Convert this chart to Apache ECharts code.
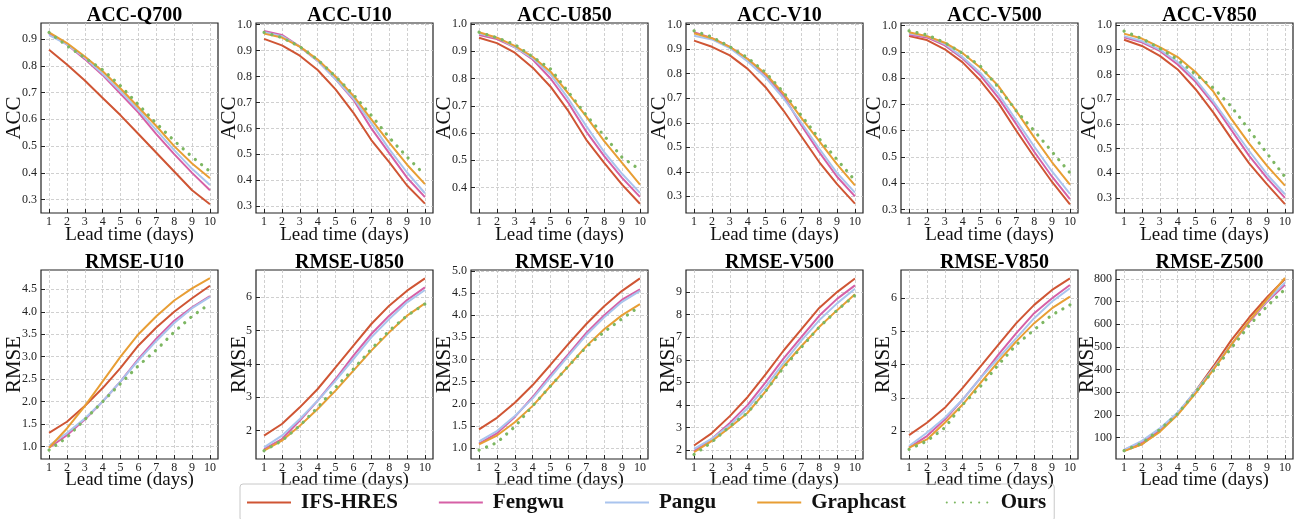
<!DOCTYPE html>
<html>
<head>
<meta charset="utf-8">
<script src="https://cdn.jsdelivr.net/npm/echarts@6/dist/echarts.min.js"></script>
<style>
  html, body { margin: 0; padding: 0; background: #fff; }
  #chart { width: 1294px; height: 519px; }
</style>
</head>
<body>
<div id="chart"></div>
<script>
var days = [1, 2, 3, 4, 5, 6, 7, 8, 9, 10];
var models = ['IFS-HRES', 'Fengwu', 'Pangu', 'Graphcast', 'Ours'];

// rows: IFS-HRES, Fengwu, Pangu, Graphcast, Ours
var accQ700 = [
  [0.86, 0.805, 0.745, 0.68, 0.615, 0.545, 0.475, 0.405, 0.335, 0.283],
  [0.92, 0.88, 0.825, 0.765, 0.695, 0.625, 0.545, 0.47, 0.40, 0.335],
  [0.915, 0.88, 0.83, 0.77, 0.705, 0.635, 0.56, 0.485, 0.415, 0.355],
  [0.925, 0.885, 0.835, 0.78, 0.715, 0.645, 0.575, 0.50, 0.435, 0.38],
  [0.925, 0.875, 0.83, 0.785, 0.725, 0.655, 0.585, 0.52, 0.46, 0.405]
];
var accU10 = [
  [0.945, 0.92, 0.88, 0.825, 0.75, 0.66, 0.555, 0.47, 0.38, 0.31],
  [0.975, 0.96, 0.915, 0.86, 0.79, 0.71, 0.60, 0.505, 0.41, 0.335],
  [0.97, 0.955, 0.915, 0.86, 0.79, 0.715, 0.62, 0.52, 0.43, 0.35],
  [0.965, 0.95, 0.915, 0.865, 0.80, 0.725, 0.635, 0.545, 0.46, 0.385],
  [0.97, 0.95, 0.915, 0.865, 0.80, 0.73, 0.65, 0.565, 0.49, 0.42]
];
var accU850 = [
  [0.95, 0.93, 0.895, 0.84, 0.77, 0.68, 0.575, 0.49, 0.41, 0.34],
  [0.96, 0.945, 0.915, 0.87, 0.80, 0.71, 0.605, 0.515, 0.435, 0.365],
  [0.965, 0.95, 0.915, 0.875, 0.815, 0.725, 0.625, 0.53, 0.45, 0.38],
  [0.97, 0.95, 0.92, 0.88, 0.825, 0.745, 0.66, 0.57, 0.49, 0.41],
  [0.97, 0.95, 0.925, 0.88, 0.835, 0.75, 0.665, 0.59, 0.51, 0.465]
];
var accV10 = [
  [0.935, 0.91, 0.875, 0.82, 0.745, 0.65, 0.545, 0.44, 0.35, 0.27],
  [0.97, 0.945, 0.91, 0.86, 0.795, 0.71, 0.59, 0.48, 0.38, 0.30],
  [0.955, 0.94, 0.905, 0.85, 0.785, 0.70, 0.60, 0.495, 0.395, 0.315],
  [0.965, 0.945, 0.91, 0.86, 0.80, 0.72, 0.62, 0.525, 0.43, 0.345],
  [0.975, 0.95, 0.91, 0.865, 0.805, 0.725, 0.63, 0.535, 0.45, 0.365]
];
var accV500 = [
  [0.96, 0.945, 0.91, 0.86, 0.79, 0.705, 0.60, 0.50, 0.405, 0.32],
  [0.965, 0.955, 0.925, 0.875, 0.81, 0.725, 0.625, 0.52, 0.425, 0.34],
  [0.97, 0.96, 0.93, 0.88, 0.82, 0.74, 0.64, 0.54, 0.445, 0.36],
  [0.975, 0.96, 0.935, 0.895, 0.84, 0.77, 0.675, 0.575, 0.48, 0.395],
  [0.98, 0.965, 0.935, 0.895, 0.845, 0.765, 0.675, 0.60, 0.52, 0.44]
];
var accV850 = [
  [0.94, 0.915, 0.875, 0.82, 0.74, 0.645, 0.54, 0.44, 0.355, 0.275],
  [0.95, 0.93, 0.895, 0.84, 0.77, 0.68, 0.575, 0.47, 0.38, 0.30],
  [0.955, 0.935, 0.90, 0.85, 0.78, 0.69, 0.59, 0.49, 0.395, 0.315],
  [0.965, 0.945, 0.91, 0.87, 0.81, 0.73, 0.62, 0.52, 0.43, 0.35],
  [0.975, 0.945, 0.905, 0.86, 0.80, 0.745, 0.67, 0.575, 0.48, 0.385]
];
var rmseU10 = [
  [1.3, 1.55, 1.9, 2.3, 2.75, 3.25, 3.65, 4.0, 4.3, 4.58],
  [0.97, 1.25, 1.6, 2.0, 2.45, 2.95, 3.4, 3.8, 4.1, 4.35],
  [1.02, 1.3, 1.62, 2.0, 2.45, 2.92, 3.35, 3.75, 4.08, 4.33],
  [0.97, 1.4, 1.9, 2.45, 3.0, 3.5, 3.9, 4.25, 4.52, 4.75],
  [0.92, 1.2, 1.6, 2.0, 2.4, 2.8, 3.15, 3.55, 3.9, 4.18]
];
var rmseU850 = [
  [1.85, 2.2, 2.7, 3.25, 3.9, 4.55, 5.2, 5.75, 6.2, 6.57],
  [1.45, 1.75, 2.3, 2.9, 3.55, 4.25, 4.9, 5.45, 5.92, 6.3],
  [1.5, 1.85, 2.35, 2.9, 3.5, 4.15, 4.8, 5.35, 5.85, 6.22],
  [1.4, 1.7, 2.15, 2.65, 3.2, 3.8, 4.4, 4.95, 5.45, 5.82],
  [1.4, 1.7, 2.15, 2.7, 3.3, 3.85, 4.45, 5.0, 5.45, 5.8]
];
var rmseV10 = [
  [1.42, 1.68, 2.02, 2.42, 2.88, 3.35, 3.8, 4.2, 4.55, 4.83],
  [1.1, 1.33, 1.7, 2.15, 2.65, 3.12, 3.6, 4.0, 4.35, 4.58],
  [1.15, 1.38, 1.72, 2.12, 2.6, 3.08, 3.55, 3.95, 4.3, 4.55],
  [1.08, 1.28, 1.58, 1.95, 2.4, 2.85, 3.3, 3.68, 4.0, 4.25],
  [0.95, 1.12, 1.48, 1.95, 2.4, 2.85, 3.28, 3.62, 3.92, 4.2]
];
var rmseV500 = [
  [2.2, 2.75, 3.5, 4.35, 5.35, 6.4, 7.35, 8.3, 9.0, 9.6],
  [1.95, 2.5, 3.2, 4.0, 5.0, 6.05, 7.0, 7.95, 8.7, 9.3],
  [2.05, 2.5, 3.1, 3.85, 4.8, 5.85, 6.85, 7.75, 8.5, 9.15],
  [1.9, 2.4, 3.0, 3.65, 4.6, 5.7, 6.6, 7.45, 8.2, 8.9],
  [1.8, 2.35, 3.05, 3.65, 4.6, 5.65, 6.55, 7.45, 8.2, 8.85]
];
var rmseV850 = [
  [1.88, 2.25, 2.7, 3.3, 3.95, 4.6, 5.25, 5.8, 6.25, 6.6],
  [1.5, 1.85, 2.35, 2.95, 3.6, 4.3, 4.95, 5.55, 6.0, 6.4],
  [1.55, 1.95, 2.4, 2.95, 3.6, 4.2, 4.8, 5.4, 5.9, 6.3],
  [1.5, 1.75, 2.25, 2.8, 3.45, 4.1, 4.7, 5.25, 5.7, 6.05],
  [1.45, 1.7, 2.1, 2.8, 3.35, 4.0, 4.6, 5.05, 5.5, 5.8]
];
var rmseZ500 = [
  [42, 70, 130, 205, 305, 415, 530, 630, 720, 800],
  [45, 80, 135, 205, 300, 405, 510, 610, 700, 775],
  [45, 85, 140, 210, 305, 405, 510, 615, 705, 785],
  [40, 70, 125, 200, 295, 400, 510, 615, 710, 805],
  [42, 75, 135, 205, 300, 395, 495, 595, 680, 755]
];

var accTicks = [0.3, 0.4, 0.5, 0.6, 0.7, 0.8, 0.9, 1.0];
var ticksQ700 = [0.3, 0.4, 0.5, 0.6, 0.7, 0.8, 0.9];
var ticksU850 = [0.4, 0.5, 0.6, 0.7, 0.8, 0.9, 1.0];
var ticksU10r = [1.0, 1.5, 2.0, 2.5, 3.0, 3.5, 4.0, 4.5];
var ticksV10r = [1.0, 1.5, 2.0, 2.5, 3.0, 3.5, 4.0, 4.5, 5.0];
var ticksWind = [2, 3, 4, 5, 6];
var ticksV500 = [2, 3, 4, 5, 6, 7, 8, 9];
var ticksZ500 = [100, 200, 300, 400, 500, 600, 700, 800];

var panels = [
  { title: 'ACC-Q700', name: 'ACC', data: accQ700, min: 0.25, max: 0.96, ticks: ticksQ700, dec: 1, gap: 16 },
  { title: 'ACC-U10', name: 'ACC', data: accU10, min: 0.274, max: 1.006, ticks: accTicks, dec: 1, gap: 16 },
  { title: 'ACC-U850', name: 'ACC', data: accU850, min: 0.306, max: 1.004, ticks: ticksU850, dec: 1, gap: 16 },
  { title: 'ACC-V10', name: 'ACC', data: accV10, min: 0.232, max: 1.007, ticks: accTicks, dec: 1, gap: 16 },
  { title: 'ACC-V500', name: 'ACC', data: accV500, min: 0.287, max: 1.01, ticks: accTicks, dec: 1, gap: 16 },
  { title: 'ACC-V850', name: 'ACC', data: accV850, min: 0.239, max: 1.008, ticks: accTicks, dec: 1, gap: 16 },
  { title: 'RMSE-U10', name: 'RMSE', data: rmseU10, min: 0.72, max: 4.93, ticks: ticksU10r, dec: 1, gap: 16 },
  { title: 'RMSE-U850', name: 'RMSE', data: rmseU850, min: 1.15, max: 6.82, ticks: ticksWind, dec: 0, gap: 6 },
  { title: 'RMSE-V10', name: 'RMSE', data: rmseV10, min: 0.75, max: 5.02, ticks: ticksV10r, dec: 1, gap: 16 },
  { title: 'RMSE-V500', name: 'RMSE', data: rmseV500, min: 1.6, max: 9.98, ticks: ticksV500, dec: 0, gap: 7 },
  { title: 'RMSE-V850', name: 'RMSE', data: rmseV850, min: 1.16, max: 6.85, ticks: ticksWind, dec: 0, gap: 7 },
  { title: 'RMSE-Z500', name: 'RMSE', data: rmseZ500, min: 5, max: 840, ticks: ticksZ500, dec: 0, gap: 18 }
];

var colors = ['#cf5534', '#d660a6', '#a9c4ee', '#e89e34', '#7db762'];
var serif = 'Liberation Serif';
var lefts = [41, 256, 471, 686, 901, 1116];
var tops = [23, 270];
var gw = 177, gh = 190;

var chart = echarts.init(document.getElementById('chart'));
var titles = [], grids = [], xAxes = [], yAxes = [], series = [];

panels.forEach(function (p, i) {
  var col = i % 6, row = Math.floor(i / 6);
  grids.push({
    left: lefts[col], top: tops[row], width: gw, height: row ? 189 : gh,
    show: true, borderColor: '#222', borderWidth: 1.2, backgroundColor: 'transparent'
  });
  titles.push({
    text: p.title, left: lefts[col] + gw / 2, top: row ? 248 : 1, textAlign: 'center',
    textStyle: { fontFamily: serif, fontWeight: 'bold', fontSize: 20, color: '#000' }
  });
  xAxes.push({
    type: 'value', gridIndex: i, min: 0.55, max: 10.45,
    name: 'Lead time (days)', nameLocation: 'middle', nameGap: row ? 12 : 13,
    nameMoveOverlap: false,
    nameTextStyle: { fontFamily: serif, fontSize: 19, color: '#111' },
    axisLine: { show: false },
    axisTick: { inside: true, length: 4, lineStyle: { color: '#222' }, customValues: days },
    axisLabel: { customValues: days, margin: 3, fontFamily: serif, fontSize: 12, color: '#222' },
    splitLine: { show: true, lineStyle: { color: '#c4c4c4', type: [3, 2], width: 0.8 } }
  });
  yAxes.push({
    type: 'value', gridIndex: i, min: p.min, max: p.max,
    name: p.name, nameLocation: 'middle', nameGap: p.gap, nameRotate: 90,
    nameMoveOverlap: false,
    nameTextStyle: { fontFamily: serif, fontSize: 21, color: '#111' },
    axisLine: { show: false },
    axisTick: { inside: true, length: 4, lineStyle: { color: '#222' }, customValues: p.ticks },
    axisLabel: {
      customValues: p.ticks, margin: 4, fontFamily: serif, fontSize: 12, color: '#222',
      formatter: function (v) { return v.toFixed(p.dec); }
    },
    splitLine: { show: true, lineStyle: { color: '#c4c4c4', type: [3, 2], width: 0.8 } }
  });
  p.data.forEach(function (vals, k) {
    var dotted = k === 4;
    series.push({
      name: models[k], type: 'line', xAxisIndex: i, yAxisIndex: i,
      data: days.map(function (d, j) { return [d, vals[j]]; }),
      symbol: 'none', silent: true, z: 2 + k,
      lineStyle: dotted
        ? { color: colors[k], width: 3.2, type: [0.1, 8], cap: 'round' }
        : { color: colors[k], width: 2 }
    });
  });
});

var option = {
  animation: false,
  color: colors,
  title: titles,
  grid: grids,
  xAxis: xAxes,
  yAxis: yAxes,
  legend: {
    data: models, left: 240, top: 484, orient: 'horizontal',
    itemWidth: 44, itemHeight: 16, itemGap: 40,
    padding: [8, 8, 8, 6],
    itemStyle: { opacity: 0 },
    borderColor: '#c8c8c8', borderWidth: 1, borderRadius: 3,
    textStyle: { fontFamily: serif, fontWeight: 'bold', fontSize: 21, color: '#111', padding: [0, 0, 0, 5] }
  },
  series: series
};
chart.setOption(option);
</script>
</body>
</html>
